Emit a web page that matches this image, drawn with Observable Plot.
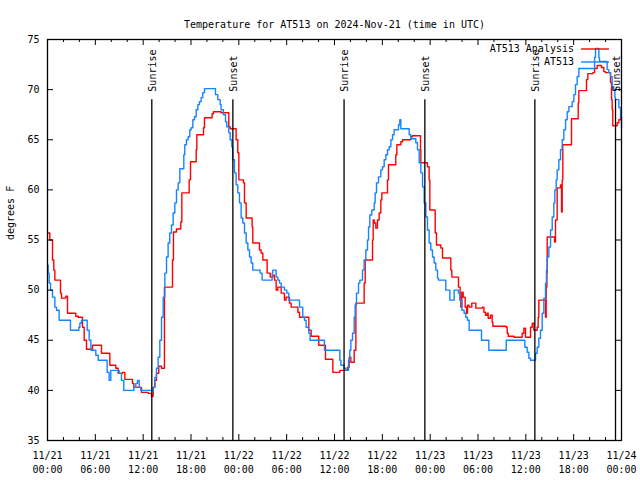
<!DOCTYPE html>
<html><head><meta charset="utf-8">
<script src="https://cdn.jsdelivr.net/npm/d3@7"></script>
<script src="https://cdn.jsdelivr.net/npm/@observablehq/plot@0.6"></script>
<style>body{margin:0;background:#fff}</style>
</head><body><div id="chart"></div>
<script>
const title = "Temperature for AT513 on 2024-Nov-21 (time in UTC)";
const yLabel = "degrees F";
const seriesNames = ["AT513 Analysis", "AT513"];
const seriesColors = ["#ff0000", "#1484ff"];
const startUTC = "2024-11-21T00:00:00Z";
const spanHours = 72;
const yTickValues = [35, 40, 45, 50, 55, 60, 65, 70, 75];

// hours since 11/21 00:00 UTC (step values)
const analysisHours = [0,0.29,0.63,0.79,0.92,1.63,1.76,2.30,2.51,3.55,3.85,4.39,4.60,4.89,5.64,6.77,7.82,8.57,8.86,9.41,9.70,10.66,10.83,11.79,12.63,13.04,13.25,13.46,13.67,13.96,14.30,14.67,15.68,15.80,16.18,16.72,16.85,17.77,17.94,18.65,18.73,19.57,19.69,20.65,20.82,21.78,22.74,22.91,23.66,23.87,24.00,24.58,24.71,24.92,25.67,25.75,26.59,26.80,27.01,27.55,27.93,28.26,28.47,28.68,28.89,29.31,29.72,29.93,30.35,30.56,31.40,31.61,32.78,33.07,34.03,34.87,35.79,36.67,37.63,37.84,38.05,38.47,38.68,39.72,39.85,40.77,40.85,40.98,41.18,41.39,41.60,41.81,41.94,42.65,42.77,43.69,43.82,44.32,44.53,45.57,45.78,46.79,46.83,47.66,47.87,47.96,48.63,48.79,49.34,49.55,50.59,50.72,51.55,51.76,51.85,51.97,52.14,52.39,52.56,52.68,52.89,53.22,53.73,54.53,54.74,54.94,55.15,55.28,55.57,55.78,55.86,57.54,57.66,57.79,58.50,59.54,59.75,59.96,60.59,60.80,61.01,61.42,61.55,61.63,62.47,62.55,62.64,62.68,63.60,63.72,63.93,64.35,64.48,64.56,64.64,65.73,66.57,66.65,67.61,67.78,68.41,68.62,68.95,69.49,69.78,69.99,70.62,70.75,70.83,70.91,71.46,71.67,71.88,72];
const analysisTemps = [55.7,55.0,53.0,52.0,51.0,49.7,49.2,49.4,47.7,47.4,47.3,46.3,45.0,44.1,44.5,43.7,42.5,42.2,41.7,41.8,41.1,40.7,40.3,39.8,39.7,39.4,40.3,41.0,41.7,42.4,42.2,50.3,53.0,55.8,56.1,56.8,59.7,61.0,62.8,64.0,65.5,66.2,67.2,67.6,67.8,67.7,66.3,66.1,65.0,63.7,61.0,60.7,58.7,57.2,56.3,54.7,54.0,53.7,53.0,51.7,51.3,51.5,51.0,50.0,50.3,49.7,49.0,49.3,48.7,48.3,47.8,47.3,46.0,45.4,44.5,43.1,41.8,42.0,42.3,43.3,42.8,44.0,48.7,50.7,53.0,55.0,57.0,56.7,56.2,57.0,57.7,59.0,59.7,61.0,62.5,63.5,64.5,64.8,65.0,65.3,65.4,64.0,62.7,62.3,61.0,58.0,55.7,54.5,54.2,53.2,52.0,51.3,50.3,49.3,48.3,49.8,49.3,48.3,47.7,48.5,48.3,48.7,48.2,48.3,47.8,47.5,47.7,47.2,47.5,46.8,46.4,46.3,45.7,45.4,45.3,45.7,46.2,45.3,46.3,46.7,46.0,46.3,47.3,49.0,47.3,50.3,51.7,55.3,54.8,57.0,60.2,60.5,57.8,61.0,64.5,67.1,68.7,69.9,71.0,71.6,71.7,72.1,72.4,72.2,71.8,71.7,70.7,69.0,68.0,66.4,66.7,67.0,67.2,67.2];

const stationHours = [0,0.08,0.21,0.38,0.63,0.92,1.13,1.46,2.88,3.93,4.06,4.26,4.98,5.23,5.44,6.06,6.36,7.48,7.73,7.94,8.99,9.28,9.57,10.83,11.08,11.29,11.50,11.71,13.25,13.46,13.67,13.88,14.09,14.30,14.51,14.72,14.93,15.13,15.34,15.55,15.76,15.97,16.18,16.39,16.60,17.10,17.22,17.43,17.64,17.85,18.02,18.23,18.44,18.65,18.86,19.06,19.27,19.48,19.69,21.07,21.36,21.66,21.78,22.07,22.33,22.49,22.74,22.91,23.12,23.24,23.45,23.66,23.87,24.08,24.29,24.50,24.71,24.92,25.13,25.34,25.54,25.75,26.67,26.92,28.18,28.26,28.68,28.89,29.10,29.31,29.72,30.02,30.27,31.61,32.02,32.23,32.44,32.78,32.94,34.74,36.67,36.80,37.21,37.42,37.76,37.92,38.05,38.26,38.47,38.59,38.76,39.01,39.18,39.51,39.72,39.93,40.14,40.27,40.43,40.68,40.98,41.10,41.27,41.52,41.81,42.02,42.23,42.44,42.65,42.86,43.07,43.28,43.48,44.03,44.19,44.32,45.37,45.57,46.20,46.41,46.62,46.83,47.04,47.25,47.46,47.66,47.87,48.08,48.29,48.50,48.71,48.92,49.04,49.96,50.47,51.01,51.55,51.72,51.97,52.26,52.47,52.68,52.89,54.44,55.36,57.54,59.88,60.17,60.38,60.59,61.22,61.42,61.63,61.84,62.05,62.26,62.47,62.59,62.68,62.89,63.10,63.31,63.51,63.64,63.81,63.93,64.14,64.35,64.56,64.77,64.98,65.19,65.40,65.81,66.02,66.23,66.44,66.65,68.62,68.74,69.16,69.24,70.20,70.41,70.62,70.83,71.04,71.17,71.25,71.67,71.88,72];
const stationTemps = [52.5,51.7,50.7,50.0,49.3,48.3,48.0,47.0,46.0,46.3,46.7,47.0,46.0,45.0,44.0,43.5,43.0,41.8,41.0,42.0,41.7,41.0,40.0,40.3,40.7,41.0,40.3,40.0,40.3,41.3,42.2,43.3,45.0,47.3,49.3,51.7,53.3,54.7,55.7,56.5,57.7,58.7,60.0,60.7,62.1,63.5,64.5,65.0,65.3,66.0,66.2,67.0,67.3,68.0,68.5,68.8,69.2,69.7,70.1,69.5,69.0,68.5,68.0,67.5,66.8,66.3,65.7,65.0,64.3,63.0,61.7,60.5,59.7,58.7,57.2,56.7,55.7,54.7,54.0,53.3,52.7,52.0,51.7,51.0,51.7,52.0,51.3,51.0,50.7,50.3,50.0,49.7,49.0,48.3,47.3,47.0,46.3,45.7,45.0,44.0,43.0,42.5,42.2,42.0,43.0,44.0,45.0,45.7,47.3,48.5,49.7,50.7,51.0,52.0,53.0,54.0,55.0,56.3,57.5,58.0,58.7,59.7,60.7,61.3,62.0,62.3,63.0,63.5,64.0,64.3,65.0,65.5,66.0,66.5,67.0,66.1,65.5,65.1,64.7,64.0,62.7,61.7,60.3,58.7,57.3,56.0,54.7,54.0,53.3,52.7,52.0,51.2,51.0,50.0,49.0,50.0,49.7,49.0,48.0,47.7,47.3,47.0,46.0,45.0,44.0,45.0,44.3,43.8,43.2,43.0,43.7,44.3,45.2,46.0,47.7,49.2,50.7,52.0,53.3,54.3,56.0,57.3,58.7,60.0,61.0,62.0,63.0,64.0,65.0,66.0,67.0,67.8,68.3,68.8,69.5,70.5,71.3,72.1,73.2,74.1,73.2,72.8,72.0,71.7,71.3,70.3,70.0,69.2,69.0,68.2,67.3,66.2];

const sunLabels = ["Sunrise", "Sunset", "Sunrise", "Sunset", "Sunrise", "Sunset"];
const sunTimes = ["2024-11-21T13:05Z", "2024-11-21T23:15Z", "2024-11-22T13:12Z", "2024-11-22T23:20Z", "2024-11-23T13:08Z", "2024-11-23T23:15Z"];
const sunLineTop = 69; // degrees F where the marker lines end

const t0 = new Date(startUTC).getTime();
const toDate = h => new Date(t0 + h * 3600000);
const analysis = analysisHours.map((h, i) => ({t: toDate(h), v: analysisTemps[i]}));
const station = stationHours.map((h, i) => ({t: toDate(h), v: stationTemps[i]}));
const sun = sunLabels.map((s, i) => ({label: s, t: new Date(sunTimes[i])}));
const allTicks = d3.range(0, spanHours + 1, 2).map(toDate);
const majorTicks = d3.range(0, spanHours + 1, 6).map(toDate);
const minorTicks = allTicks.filter((d, i) => i % 3 !== 0);
const fmt = d3.utcFormat("%m/%d\n%H:%M");

const W = 640, H = 480, mT = 39, mB = 40, mL = 47, mR = 19;
const fw = W - mL - mR, fh = H - mT - mB;
const font = "'DejaVu Sans Mono', monospace";

const chart = Plot.plot({
  width: W, height: H, marginTop: mT, marginBottom: mB, marginLeft: mL, marginRight: mR,
  style: {fontFamily: font, fontSize: "10px", background: "#fff", color: "#000"},
  x: {type: "utc", domain: [toDate(0), toDate(spanHours)]},
  y: {domain: [35, 75]},
  marks: [
    Plot.line(analysis, {x: "t", y: "v", stroke: seriesColors[0], strokeWidth: 1.4, curve: "step-after"}),
    Plot.line(station, {x: "t", y: "v", stroke: seriesColors[1], strokeWidth: 1.4, curve: "step-after"}),
    Plot.ruleX(sun, {x: "t", y1: 35, y2: sunLineTop, stroke: "#000", strokeWidth: 1.3}),
    Plot.text(sun, {x: "t", y: sunLineTop, text: "label", rotate: -90, textAnchor: "start", dy: -8, dx: 1, fill: "#000"}),
    // ticks (inward, mirrored)
    Plot.tickY(yTickValues, {y: d => d, insetRight: fw - 6, stroke: "#000"}),
    Plot.tickY(yTickValues, {y: d => d, insetLeft: fw - 6, stroke: "#000"}),
    Plot.tickX(majorTicks, {x: d => d, insetTop: fh - 6, stroke: "#000"}),
    Plot.tickX(majorTicks, {x: d => d, insetBottom: fh - 6, stroke: "#000"}),
    Plot.tickX(minorTicks, {x: d => d, insetTop: fh - 3, stroke: "#000"}),
    Plot.tickX(minorTicks, {x: d => d, insetBottom: fh - 3, stroke: "#000"}),
    Plot.frame({stroke: "#000", strokeWidth: 1.3}),
    Plot.axisY(yTickValues, {anchor: "left", tickSize: 0, tickPadding: 8, label: null}),
    Plot.axisX(majorTicks, {anchor: "bottom", tickSize: 0, tickPadding: 9, tickFormat: fmt, lineHeight: 1.4, label: null}),
    Plot.text([yLabel], {frameAnchor: "left", dx: -37, rotate: -90, fill: "#000"}),
    Plot.text([title], {frameAnchor: "top", dy: -19, fill: "#000"})
  ]
});
document.getElementById("chart").appendChild(chart);

// legend (inside top-right, as in the reference)
const svg = d3.select(chart);
const lg = svg.append("g").attr("font-family", font).attr("font-size", 10);
seriesNames.forEach((name, i) => {
  const y = 49 + i * 13;
  lg.append("text").attr("x", 574).attr("y", y).attr("dy", "0.32em").attr("text-anchor", "end").attr("fill", "#000").text(name);
  lg.append("line").attr("x1", 581).attr("x2", 609).attr("y1", y).attr("y2", y).attr("stroke", seriesColors[i]).attr("stroke-width", 1.4);
});
</script>
</body></html>
